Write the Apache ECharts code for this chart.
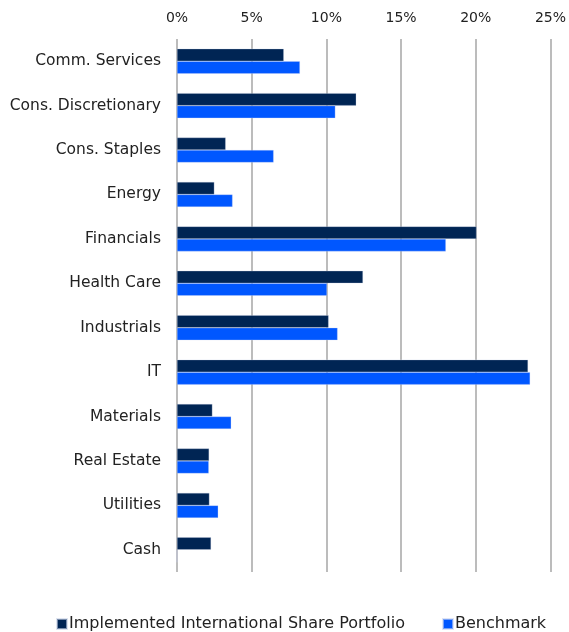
<!DOCTYPE html>
<html><head><meta charset="utf-8">
<script src="https://cdn.jsdelivr.net/npm/echarts@6/dist/echarts.min.js"></script>
<style>html,body{margin:0;padding:0;background:#fff}#c{width:569px;height:632px}</style>
</head><body><div id="c"></div>
<script>
const categories = ["Comm. Services","Cons. Discretionary","Cons. Staples","Energy","Financials","Health Care","Industrials","IT","Materials","Real Estate","Utilities","Cash"];
const portfolio = [7.15, 12.0, 3.26, 2.5, 20.05, 12.45, 10.15, 23.5, 2.37, 2.15, 2.17, 2.28];
const benchmark = [8.23, 10.6, 6.47, 3.72, 18.0, 10.04, 10.75, 23.64, 3.63, 2.13, 2.76, 0];
const seriesNames = ["Implemented International Share Portfolio", "Benchmark"];
const xTicks = {min: 0, max: 25, interval: 5};

const font = "DejaVu Sans";
const legendBase = {
  top: 611, itemWidth: 10, itemHeight: 10, icon: 'rect',
  textStyle: {fontFamily: font, fontSize: 16, color: '#222', padding: [0,0,0,-3]}
};
const chart = echarts.init(document.getElementById('c'));
chart.setOption({
  animation: false,
  textStyle: {fontFamily: font},
  grid: {left: 177, right: 15.5, top: 39, bottom: 60},
  legend: [
    Object.assign({}, legendBase, {left: 51, data: [seriesNames[0]]}),
    Object.assign({}, legendBase, {left: 437, data: [seriesNames[1]]})
  ],
  xAxis: {
    type: 'value', position: 'top', min: xTicks.min, max: xTicks.max, interval: xTicks.interval,
    axisLine: {show: false}, axisTick: {show: false},
    axisLabel: {formatter: '{value}%', fontFamily: font, fontSize: 14, color: '#222', margin: 14},
    splitLine: {show: true, lineStyle: {color: '#a6a6a6', width: 1.5}}
  },
  yAxis: {
    type: 'category', inverse: true, data: categories,
    axisLine: {show: false}, axisTick: {show: false},
    axisLabel: {fontFamily: font, fontSize: 15.5, color: '#222', margin: 16}
  },
  series: [
    {name: seriesNames[0], type: 'bar', data: portfolio, barWidth: 12.5, barGap: '0%',
     itemStyle: {color: '#002554', borderColor: 'rgba(200,210,230,0.6)', borderWidth: 0.5}},
    {name: seriesNames[1], type: 'bar', data: benchmark, barWidth: 12.5, barGap: '0%',
     itemStyle: {color: '#0057ff', borderColor: 'rgba(200,210,240,0.6)', borderWidth: 0.5}}
  ]
});
</script></body></html>
